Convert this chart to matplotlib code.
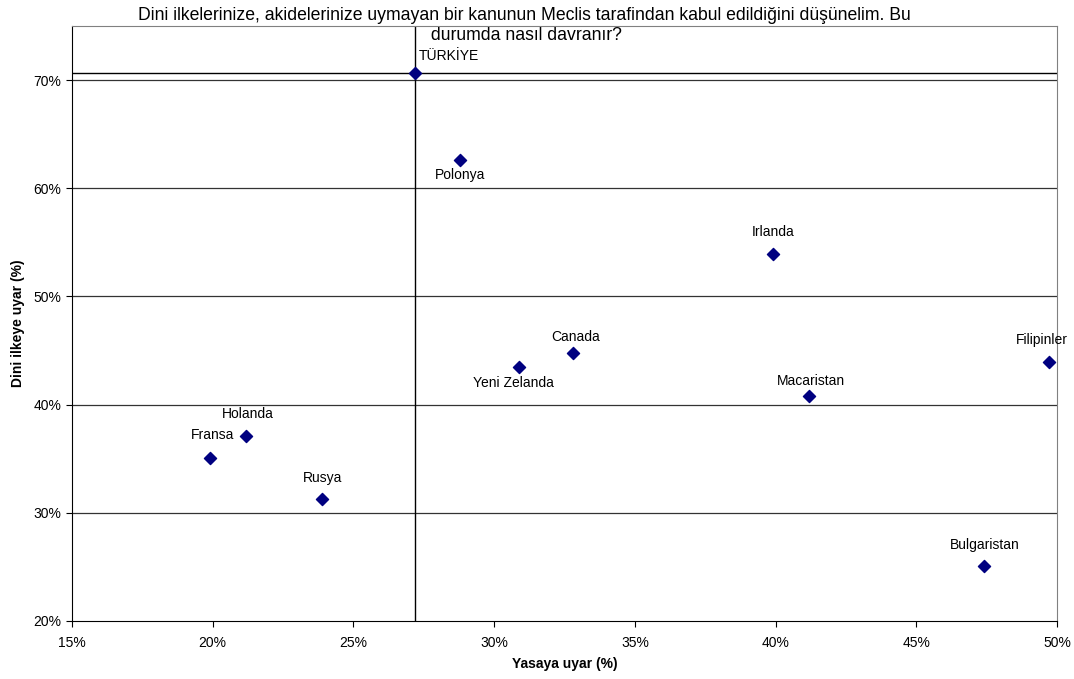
import matplotlib
matplotlib.use('Agg')
import matplotlib.pyplot as plt
from matplotlib.ticker import FuncFormatter

plt.rcParams['font.family'] = ['Liberation Sans', 'DejaVu Sans']

# values (percent)
countries = ['TÜRKİYE', 'Polonya', 'Irlanda', 'Filipinler', 'Canada', 'Yeni Zelanda',
             'Macaristan', 'Holanda', 'Fransa', 'Rusya', 'Bulgaristan']
law = [27.2, 28.8, 39.9, 49.7, 32.8, 30.9, 41.2, 21.2, 19.9, 23.9, 47.4]
religion = [70.7, 62.6, 53.9, 43.9, 44.8, 43.5, 40.8, 37.1, 35.1, 31.3, 25.1]

title = ('Dini ilkelerinize, akidelerinize uymayan bir kanunun Meclis tarafindan kabul edildiğini düşünelim. Bu\n'
         ' durumda nasıl davranır?')
x_ticks = [15, 20, 25, 30, 35, 40, 45, 50]
y_ticks = [20, 30, 40, 50, 60, 70]

# label offsets in points (dx, dy)
label_offsets = {
    'TÜRKİYE': (24, 12), 'Polonya': (0, -11), 'Irlanda': (0, 16), 'Filipinler': (-5, 16),
    'Canada': (2, 11), 'Yeni Zelanda': (-4, -12), 'Macaristan': (1, 11), 'Holanda': (1, 16),
    'Fransa': (2, 16), 'Rusya': (0, 15), 'Bulgaristan': (1, 15),
}

fig = plt.figure(figsize=(10.74, 6.79), dpi=100)
ax = fig.add_axes([72 / 1074, 1 - 621 / 679, (1057 - 72) / 1074, (621 - 26) / 679])

ax.set_xlim(15, 50)
ax.set_ylim(20, 75)
ax.set_xticks(x_ticks)
ax.set_yticks(y_ticks)
pct = FuncFormatter(lambda v, p: f'{v:.0f}%')
ax.xaxis.set_major_formatter(pct)
ax.yaxis.set_major_formatter(pct)
ax.tick_params(labelsize=10, length=4, direction='out', width=0.8)
ax.tick_params(axis='x', pad=7)

for yv in y_ticks[1:]:
    ax.axhline(yv, color='#333333', linewidth=0.9, zorder=1)

# reference lines through Türkiye
ax.axvline(law[0], color='black', linewidth=1.0, zorder=1)
ax.axhline(religion[0], color='black', linewidth=1.0, zorder=1)

for side in ['top', 'right']:
    ax.spines[side].set_color('#808080')
for side in ['left', 'bottom']:
    ax.spines[side].set_color('black')

ax.scatter(law, religion, marker='D', s=38, color='#000080', zorder=3, clip_on=False)

for name, xv, yv in zip(countries, law, religion):
    dx, dy = label_offsets[name]
    ax.annotate(name, (xv, yv), xytext=(dx, dy), textcoords='offset points',
                ha='center', va='center', fontsize=10, annotation_clip=False)

ax.set_xlabel('Yasaya uyar (%)', fontsize=10, fontweight='bold', labelpad=5)
ax.set_ylabel('Dini ilkeye uyar (%)', fontsize=10, fontweight='bold', labelpad=6)

fig.text(524 / 1074, 1 - 25.5 / 679, title, ha='center', va='center', fontsize=12.7, linespacing=1.3)

fig.savefig('out.png', dpi=100)
plt.close(fig)
